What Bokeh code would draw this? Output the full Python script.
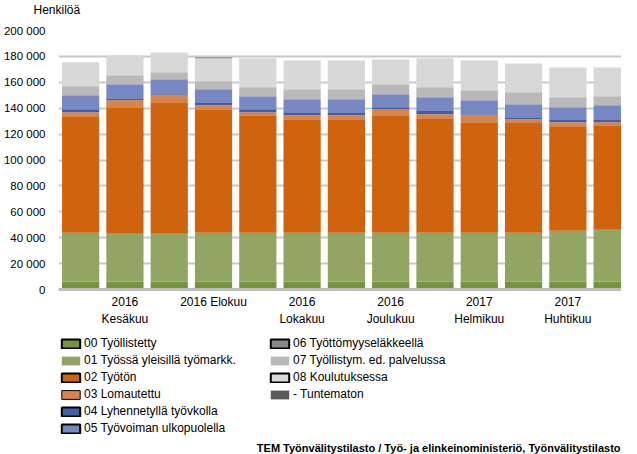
from bokeh.plotting import figure
from bokeh.models import ColumnDataSource, FixedTicker, Legend, LegendItem, Label, Range1d, Title
from bokeh.layouts import column
from bokeh.embed import file_html
from bokeh.resources import INLINE

# ---------------- data ----------------
months = ["2016 Toukokuu", "2016 Kesäkuu", "2016 Heinäkuu", "2016 Elokuu", "2016 Syyskuu",
          "2016 Lokakuu", "2016 Marraskuu", "2016 Joulukuu", "2017 Tammikuu", "2017 Helmikuu",
          "2017 Maaliskuu", "2017 Huhtikuu", "2017 Toukokuu"]
tick_index = [1, 3, 5, 7, 9, 11]
tick_labels = ["2016\nKesäkuu", "2016 Elokuu", "2016\nLokakuu", "2016\nJoulukuu",
               "2017\nHelmikuu", "2017\nHuhtikuu"]

s00 = [6200, 6200, 6200, 6200, 6200, 6200, 6200, 6200, 6200, 6200, 6200, 6200, 6200]
s01 = [37600, 36900, 36900, 37600, 37600, 37600, 37600, 37600, 37600, 37600, 37600, 39200, 40000]
s02 = [89500, 97700, 101500, 94900, 90800, 87700, 87000, 90800, 88500, 85400, 84700, 80000, 80700]
s03 = [3600, 5400, 5200, 3600, 2300, 3100, 3800, 4600, 3100, 5400, 3000, 3800, 2300]
s04 = [2300, 1000, 1000, 2300, 2300, 2300, 2300, 1600, 3100, 800, 1600, 1600, 1600]
s05 = [10800, 11300, 11500, 10000, 10000, 10000, 10000, 10000, 10000, 10800, 10000, 10000, 11500]
s06 = [0, 0, 0, 0, 0, 0, 0, 0, 0, 0, 0, 0, 0]
s07 = [6900, 6900, 5400, 6200, 7000, 7700, 7700, 7700, 7700, 7600, 9200, 7700, 6900]
s08 = [18500, 15400, 15400, 17700, 22300, 22300, 22300, 19200, 22300, 23100, 22300, 23000, 22300]
s_tun = [0, 0, 0, 700, 0, 0, 0, 0, 0, 0, 0, 0, 0]

series_names = ["00 Työllistetty", "01 Työssä yleisillä työmarkk.", "02 Työtön", "03 Lomautettu",
                "04 Lyhennetyllä työvkolla", "05 Työvoiman ulkopuolella", "06 Työttömyyseläkkeellä",
                "07 Työllistym. ed. palvelussa", "08 Koulutuksessa", "- Tuntematon"]
colors = ["#77933C", "#93A562", "#D0630D", "#D9854A", "#4360A6", "#7888C2",
          "#878787", "#BAB8B8", "#D8D8D8", "#595959"]
legend_border = [2, 0, 2, 1, 2, 2, 2, 0, 2, 0]

y_ticks = [0, 20000, 40000, 60000, 80000, 100000, 120000, 140000, 160000, 180000, 200000]
y_tick_labels = ["0", "20 000", "40 000", "60 000", "80 000", "100 000", "120 000",
                 "140 000", "160 000", "180 000", "200 000"]

FONT = "Liberation Sans"
NAN = float("nan")

# ---------------- chart ----------------
keys = ["s00", "s01", "s02", "s03", "s04", "s05", "s06", "s07", "s08", "stun"]
data = dict(x=list(range(len(months))), s00=s00, s01=s01, s02=s02, s03=s03, s04=s04,
            s05=s05, s06=s06, s07=s07, s08=s08, stun=s_tun)
source = ColumnDataSource(data)

p = figure(width=621, height=332, x_range=Range1d(-0.5, 12.211), y_range=Range1d(0, 200000),
           output_backend="svg", toolbar_location=None,
           min_border_left=49, min_border_right=0, min_border_top=29, min_border_bottom=43)
p.outline_line_color = None

p.vbar_stack(keys, x="x", width=0.84, color=colors, line_width=0, source=source)

p.add_layout(Title(text="Henkilöä\n", align="left", offset=-25, standoff=0,
                   vertical_align="bottom", text_line_height=1.0,
                   text_font=FONT, text_font_size="12px", text_font_style="normal",
                   text_color="black"), "above")

p.yaxis.ticker = FixedTicker(ticks=y_ticks)
p.yaxis.major_label_overrides = dict(zip(y_ticks, y_tick_labels))
p.yaxis.axis_line_color = None
p.yaxis.major_tick_line_color = None
p.yaxis.minor_tick_line_color = None
p.yaxis.major_label_standoff = 7
p.yaxis.major_label_text_font = FONT
p.yaxis.major_label_text_font_size = "11.5px"
p.yaxis.major_label_text_color = "black"

p.xaxis.ticker = FixedTicker(ticks=tick_index)
p.xaxis.major_label_overrides = dict(zip(tick_index, tick_labels))
p.xaxis.axis_line_color = "#BEBEBE"
p.xaxis.axis_line_width = 3
p.xaxis.major_tick_line_color = None
p.xaxis.minor_tick_line_color = None
p.xaxis.major_label_standoff = -1
p.xaxis.major_label_text_font = FONT
p.xaxis.major_label_text_font_size = "12px"
p.xaxis.major_label_text_color = "black"
p.xaxis.major_label_text_line_height = 1.25

p.xgrid.visible = False
p.ygrid.grid_line_color = "#C9C9C9"
p.ygrid.grid_line_width = 2

# ---------------- legend / source panel (frame aligned with the chart frame) ----------------
q = figure(width=621, height=122, x_range=Range1d(0, 572), y_range=Range1d(0, 122),
           output_backend="svg", toolbar_location=None,
           x_axis_location=None, y_axis_location=None,
           min_border_left=0, min_border_right=0, min_border_top=0, min_border_bottom=0)
q.grid.visible = False
q.outline_line_color = None

items = []
for name, c, lw in zip(series_names, colors, legend_border):
    r = q.quad(left=[NAN], right=[NAN], top=[NAN], bottom=[NAN], fill_color=c,
               line_color="black" if lw else None, line_width=max(lw, 1))
    items.append(LegendItem(label=name, renderers=[r]))

common = dict(orientation="vertical", glyph_width=23, glyph_height=11, label_height=14,
              spacing=3, padding=0, margin=0, border_line_color=None, background_fill_alpha=0,
              label_text_font=FONT, label_text_font_size="12px", label_standoff=2,
              label_text_color="black")
q.add_layout(Legend(items=items[:6], location=(1, 19), **common))
q.add_layout(Legend(items=items[6:], location=(210, 53), **common))

q.add_layout(Label(x=571, y=7, text="TEM Työnvälitystilasto / Työ- ja elinkeinoministeriö, Työnvälitystilasto",
                   text_font=FONT, text_font_size="11px", text_font_style="bold",
                   text_baseline="middle", text_align="right", text_color="black"))

layout = column(p, q, spacing=0)
open("out.html", "w").write(file_html(layout, INLINE))
